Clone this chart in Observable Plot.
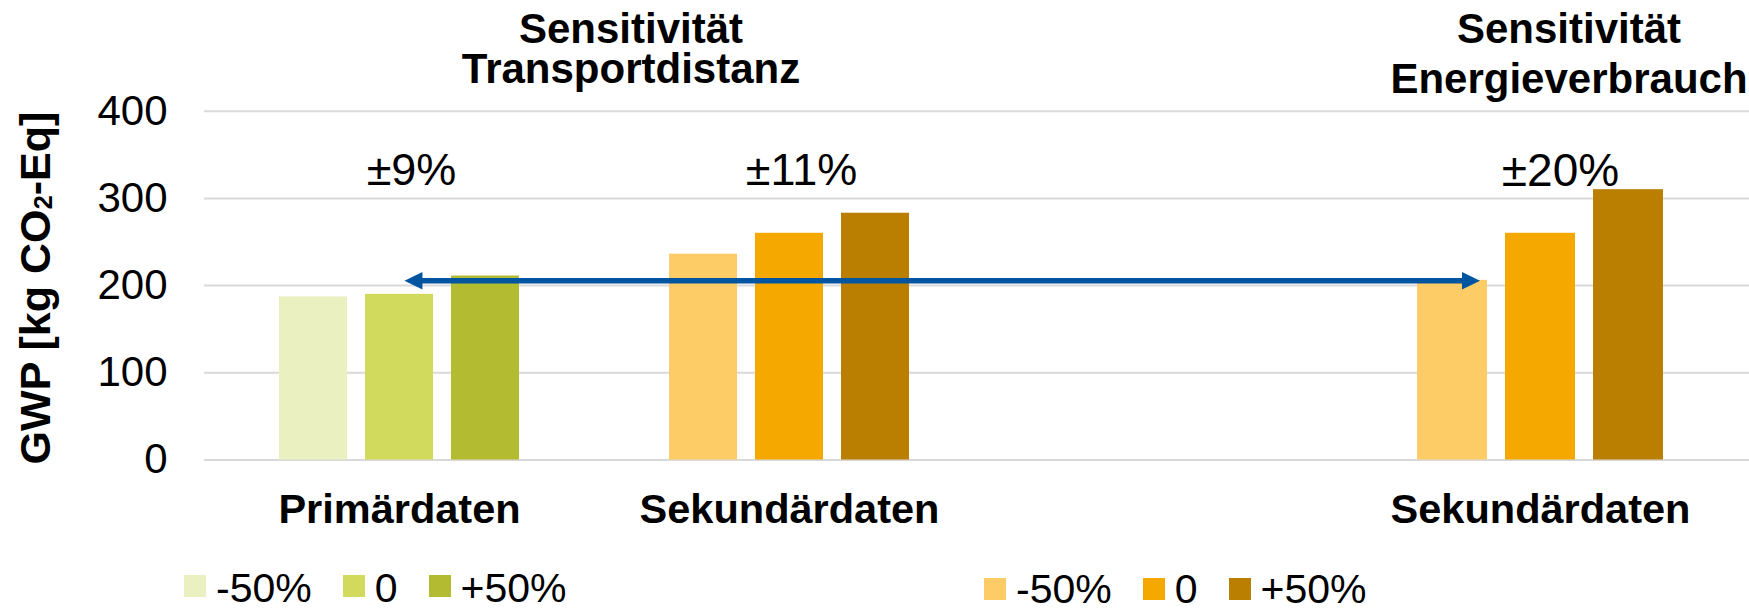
<!DOCTYPE html>
<html>
<head>
<meta charset="utf-8">
<script src="https://cdn.jsdelivr.net/npm/d3@7"></script>
<script src="https://cdn.jsdelivr.net/npm/@observablehq/plot@0.6"></script>
<style>
  html, body { margin: 0; padding: 0; background: #fff; }
  #wrap { position: relative; width: 1749px; height: 611px; overflow: hidden;
          font-family: "Liberation Sans", Arial, sans-serif; color: #000; background: #fff; }
  .abs { position: absolute; }
  .tline { font-size: 42px; font-weight: bold; text-align: center; white-space: nowrap; width: 600px; height: 40px; line-height: 40px; }
  .ylab { font-size: 43px; font-weight: bold; text-align: center; white-space: nowrap;
          width: 420px; height: 42px; line-height: 42px; transform: rotate(-90deg); }
  .ylab sub { font-size: 0.6em; vertical-align: -0.06em; line-height: 0; }
  .legend { display: flex; align-items: flex-start; }
  .legend .sw { width: 22px; height: 22px; margin-right: 10px; flex: none; }
  .legend .lb { font-size: 41px; line-height: 34px; height: 34px; margin-right: 31px; white-space: nowrap; }
</style>
</head>
<body>
<div id="wrap"></div>
<script>
// ---------- data ----------
const series = ["-50%", "0", "+50%"];
const groupsTransport = ["Primärdaten", "Sekundärdaten"];
const valuesPrimaer = [187, 190, 211];
const valuesSekundaerTransport = [236, 260, 283];
const groupEnergie = ["Sekundärdaten"];
const valuesSekundaerEnergie = [206, 260, 310];
const rangeTransport = ["±9%", "±11%"];
const rangeEnergie = ["±20%"];
const titleTransport = ["Sensitivität", "Transportdistanz"];
const titleEnergie = ["Sensitivität", "Energieverbrauch"];
const yTicks = [0, 100, 200, 300, 400];
const arrowLevel = [205];

// ---------- styles ----------
const colorsPrimaer = ["#eaf0bf", "#d2da5e", "#b3bc30"];
const colorsSekundaer = ["#fecc66", "#f5a800", "#ba7e00"];
const gridColor = "#d9d9d9";
const arrowColor = "#0055a0";
const font = '"Liberation Sans", Arial, sans-serif';

const wrap = document.getElementById("wrap");

// ---------- chart A (Transportdistanz) ----------
const dataA = [
  ...series.map((s, i) => ({group: groupsTransport[0], series: s, value: valuesPrimaer[i], color: colorsPrimaer[i]})),
  ...series.map((s, i) => ({group: groupsTransport[1], series: s, value: valuesSekundaerTransport[i], color: colorsSekundaer[i]}))
];
const annotA = groupsTransport.map((g, i) => ({group: g, label: rangeTransport[i], anchor: series[1]}));

const common = {
  height: 611, marginTop: 110.7, marginBottom: 151.5,
  style: {fontFamily: font, fontSize: "42px", color: "#000", background: "transparent", overflow: "visible"}
};

const chartA = Plot.plot({
  ...common,
  width: 984, marginLeft: 204, marginRight: 0,
  fx: {domain: groupsTransport, padding: 0, label: null},
  x: {domain: series, paddingInner: 0.214, paddingOuter: 0.86, axis: null},
  y: {domain: [0, 400], label: null},
  color: {type: "identity"},
  marks: [
    Plot.gridY(yTicks, {stroke: gridColor, strokeOpacity: 1, strokeWidth: 2}),
    Plot.axisY(yTicks, {tickSize: 0, tickPadding: 37, fontSize: 42, label: null}),
    Plot.axisFx({anchor: "bottom", tickSize: 0, tickPadding: 34, fontSize: 41.5, fontWeight: "bold", label: null}),
    Plot.barY(dataA, {fx: "group", x: "series", y: "value", fill: "color"}),
    Plot.text(annotA, {fx: "group", x: "anchor", text: "label", frameAnchor: "top", dy: 42, dx: 12, fontSize: 45})
  ]
});
chartA.style.position = "absolute";
chartA.style.left = "0px";
chartA.style.top = "0px";
wrap.appendChild(chartA);

// ---------- chart B (Energieverbrauch) ----------
const dataB = series.map((s, i) => ({series: s, value: valuesSekundaerEnergie[i], color: colorsSekundaer[i]}));
const chartB = Plot.plot({
  ...common,
  width: 765, marginLeft: 0, marginRight: 0,
  x: {domain: series, range: [415, 697], paddingInner: 0.2045, paddingOuter: 0.2045, axis: null},
  y: {domain: [0, 400], axis: null},
  color: {type: "identity"},
  marks: [
    Plot.gridY(yTicks, {stroke: gridColor, strokeOpacity: 1, strokeWidth: 2}),
    Plot.barY(dataB, {x: "series", y: "value", fill: "color"}),
    Plot.text(groupEnergie, {x: () => series[1], text: d => d, frameAnchor: "bottom", lineAnchor: "top", dy: 34, fontSize: 41.5, fontWeight: "bold"}),
    Plot.text(rangeEnergie, {x: () => series[1], text: d => d, frameAnchor: "top", dy: 42, dx: 20, fontSize: 46})
  ]
});
chartB.style.position = "absolute";
chartB.style.left = "984px";
chartB.style.top = "0px";
wrap.appendChild(chartB);

// ---------- arrow (from the plots' own scales) ----------
const fxA = chartA.scale("fx"), xA = chartA.scale("x"), yA = chartA.scale("y"), xB = chartB.scale("x");
const ax1 = fxA.apply(groupsTransport[0]) + xA.apply(series[1]) - xA.range[0] + xA.bandwidth * 0.58;
const ax2 = 984 + xB.apply(series[0]) + xB.bandwidth * 0.9;
const ay = yA.apply(arrowLevel[0]);
const head = 18, half = 8.8;
const ov = d3.create("svg").attr("width", 1749).attr("height", 611)
  .style("position", "absolute").style("left", "0px").style("top", "0px").style("pointer-events", "none");
ov.append("line").attr("x1", ax1 + head - 2).attr("x2", ax2 - head + 2).attr("y1", ay).attr("y2", ay)
  .attr("stroke", arrowColor).attr("stroke-width", 5.5);
ov.append("path").attr("d", `M${ax1},${ay}L${ax1 + head},${ay - half}L${ax1 + head},${ay + half}Z`).attr("fill", arrowColor);
ov.append("path").attr("d", `M${ax2},${ay}L${ax2 - head},${ay - half}L${ax2 - head},${ay + half}Z`).attr("fill", arrowColor);
wrap.appendChild(ov.node());

// ---------- titles (one element per line) ----------
function addTitle(lines, left, tops) {
  lines.forEach((t, i) => {
    const d = document.createElement("div");
    d.className = "abs tline";
    d.style.left = left + "px"; d.style.top = tops[i] + "px";
    d.textContent = t;
    wrap.appendChild(d);
  });
}
addTitle(titleTransport, 331, [8.5, 48.5]);
addTitle(titleEnergie, 1269, [8.5, 58.5]);

// ---------- y label ----------
const yl = document.createElement("div");
yl.className = "abs ylab";
yl.style.left = "-175.5px"; yl.style.top = "267px";
yl.innerHTML = "GWP [kg CO<sub>2</sub>-Eq]";
wrap.appendChild(yl);

// ---------- legends ----------
function addLegend(colors, left, top, swTop) {
  const d = document.createElement("div");
  d.className = "abs legend";
  d.style.left = left + "px"; d.style.top = top + "px";
  series.forEach((s, i) => {
    const sw = document.createElement("div"); sw.className = "sw";
    sw.style.background = colors[i]; sw.style.marginTop = swTop + "px";
    const lb = document.createElement("div"); lb.className = "lb"; lb.textContent = s;
    d.appendChild(sw); d.appendChild(lb);
  });
  wrap.appendChild(d);
}
addLegend(colorsPrimaer, 184, 571, 3.5);
addLegend(colorsSekundaer, 984, 572, 5.5);
</script>
</body>
</html>
